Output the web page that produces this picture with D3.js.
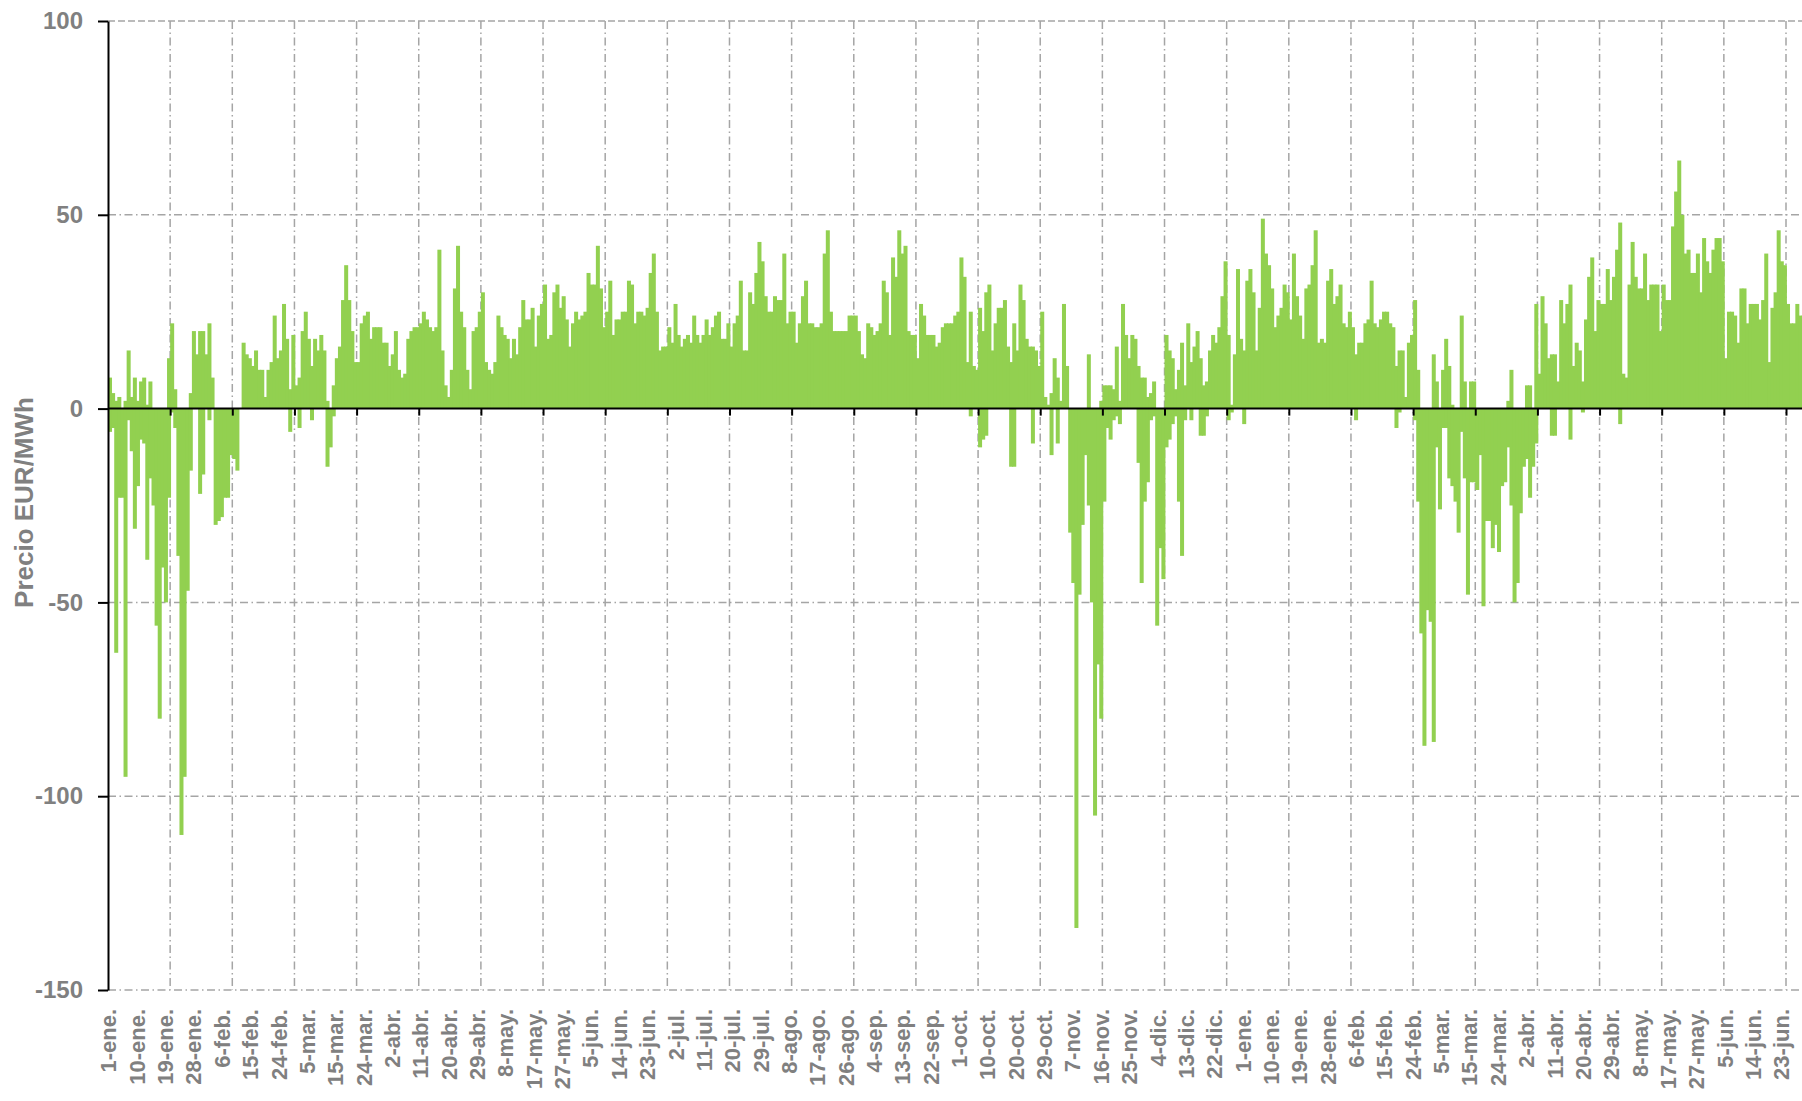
<!DOCTYPE html>
<html>
<head>
<meta charset="utf-8">
<script src="https://cdn.jsdelivr.net/npm/d3@7"></script>
<style>
  html, body { margin: 0; padding: 0; background: #ffffff; overflow: hidden; }
  svg { display: block; }
</style>
</head>
<body>
<script>
// Category labels along the time axis (one every 219 hourly points)
const dayLabels = [
  "1-ene.", "10-ene.", "19-ene.", "28-ene.", "6-feb.", "15-feb.", "24-feb.", "5-mar.", "15-mar.", "24-mar.",
  "2-abr.", "11-abr.", "20-abr.", "29-abr.", "8-may.", "17-may.", "27-may.", "5-jun.", "14-jun.", "23-jun.",
  "2-jul.", "11-jul.", "20-jul.", "29-jul.", "8-ago.", "17-ago.", "26-ago.", "4-sep.", "13-sep.", "22-sep.",
  "1-oct.", "10-oct.", "20-oct.", "29-oct.", "7-nov.", "16-nov.", "25-nov.", "4-dic.", "13-dic.", "22-dic.",
  "1-ene.", "10-ene.", "19-ene.", "28-ene.", "6-feb.", "15-feb.", "24-feb.", "5-mar.", "15-mar.", "24-mar.",
  "2-abr.", "11-abr.", "20-abr.", "29-abr.", "8-may.", "17-may.", "27-may.", "5-jun.", "14-jun.", "23-jun."
];

// Highest hourly price of each day (EUR/MWh), from 1 January onwards
const dailyMax = [
  8, 4, 2, 3, 0, 2, 15, 3, 8, 2,
  7, 8, 1, 7, 0, 0, 0, 0, 0, 13,
  22, 5, 0, 0, 0, 0, 4, 20, 14, 20,
  20, 14, 22, 8, 0, 0, 0, 0, 0, 0,
  0, 0, 0, 17, 14, 13, 11, 15, 10, 10,
  3, 10, 12, 24, 13, 15, 27, 18, 5, 19,
  6, 8, 20, 25, 18, 11, 18, 15, 19, 15,
  2, 0, 6, 13, 16, 28, 37, 28, 20, 12,
  12, 22, 24, 25, 18, 21, 21, 21, 17, 17,
  11, 14, 20, 10, 8, 9, 18, 20, 21, 21,
  22, 25, 23, 21, 20, 21, 41, 15, 6, 3,
  10, 31, 42, 25, 21, 10, 5, 20, 21, 25,
  30, 12, 10, 9, 12, 24, 21, 19, 18, 13,
  18, 14, 21, 28, 23, 23, 26, 16, 24, 27,
  32, 18, 19, 30, 32, 26, 29, 23, 16, 22,
  25, 23, 24, 25, 35, 32, 32, 42, 31, 21,
  25, 33, 19, 23, 23, 25, 25, 33, 32, 22,
  25, 25, 24, 26, 35, 40, 25, 15, 16, 16,
  21, 17, 27, 19, 16, 18, 19, 17, 24, 19,
  17, 19, 23, 19, 21, 24, 25, 18, 18, 22,
  16, 22, 24, 33, 15, 15, 30, 27, 35, 43,
  38, 29, 25, 25, 29, 28, 28, 40, 22, 25,
  25, 17, 22, 29, 33, 22, 22, 21, 21, 22,
  40, 46, 25, 20, 20, 20, 20, 20, 24, 24,
  24, 20, 14, 13, 22, 21, 19, 20, 22, 33,
  30, 19, 39, 34, 46, 40, 42, 20, 19, 19,
  13, 27, 24, 19, 19, 19, 16, 17, 21, 22,
  22, 22, 24, 25, 39, 34, 12, 25, 11, 10,
  26, 20, 30, 32, 15, 22, 26, 26, 28, 16,
  12, 22, 15, 32, 28, 18, 16, 16, 15, 11,
  25, 3, 1, 4, 13, 8, 2, 27, 11, 0,
  0, 0, 0, 0, 0, 14, 0, 0, 0, 2,
  6, 6, 6, 5, 16, 2, 27, 19, 13, 19,
  18, 11, 8, 8, 3, 4, 7, 0, 0, 0,
  19, 15, 13, 5, 10, 17, 6, 22, 12, 16,
  20, 13, 6, 7, 15, 19, 17, 21, 29, 38,
  19, 1, 14, 36, 18, 15, 33, 36, 30, 15,
  26, 49, 40, 37, 31, 21, 24, 26, 32, 30,
  23, 40, 29, 24, 18, 31, 32, 37, 46, 17,
  18, 17, 33, 36, 27, 29, 32, 22, 21, 25,
  21, 14, 17, 17, 22, 23, 33, 22, 21, 23,
  25, 25, 22, 21, 11, 15, 15, 3, 17, 19,
  28, 10, 0, 0, 0, 0, 14, 7, 0, 10,
  18, 11, 1, 0, 0, 24, 7, 0, 7, 7,
  0, 0, 0, 0, 0, 0, 0, 0, 0, 0,
  2, 10, 0, 0, 0, 0, 6, 6, 0, 27,
  9, 29, 22, 13, 14, 14, 7, 28, 22, 27,
  32, 11, 17, 15, 7, 23, 34, 39, 20, 28,
  27, 27, 36, 28, 34, 41, 48, 9, 8, 32,
  43, 34, 31, 31, 40, 28, 32, 32, 32, 20,
  32, 28, 28, 47, 56, 64, 50, 40, 41, 35,
  35, 40, 30, 44, 38, 35, 41, 44, 44, 38,
  13, 25, 25, 24, 17, 31, 31, 22, 27, 27,
  27, 23, 28, 40, 12, 26, 30, 46, 38, 37,
  27, 22, 22, 27, 24, 24
];

// Lowest negative hourly price of each day (EUR/MWh); 0 when the day stayed above zero
const dailyMin = [
  -6, -5, -63, -23, -23, -95, -3, -11, -31, -20,
  -8, -9, -39, -18, -25, -56, -80, -41, -50, -23,
  -1, -5, -38, -110, -95, -47, -16, 0, 0, -22,
  -17, 0, -3, 0, -30, -29, -28, -23, -23, -12,
  -13, -16, 0, 0, 0, 0, 0, 0, 0, 0,
  0, 0, 0, 0, 0, 0, 0, 0, -6, 0,
  0, -5, 0, 0, 0, -3, 0, 0, 0, 0,
  -15, -10, -2, 0, 0, 0, 0, 0, 0, 0,
  0, 0, 0, 0, 0, 0, 0, 0, 0, 0,
  0, 0, 0, 0, 0, 0, 0, 0, 0, 0,
  0, 0, 0, 0, 0, 0, 0, 0, 0, 0,
  0, 0, 0, 0, 0, 0, 0, 0, 0, 0,
  0, 0, 0, 0, 0, 0, 0, 0, 0, 0,
  0, 0, 0, 0, 0, 0, 0, 0, 0, 0,
  0, 0, 0, 0, 0, 0, 0, 0, 0, 0,
  0, 0, 0, 0, 0, 0, 0, 0, 0, 0,
  0, 0, 0, 0, 0, 0, 0, 0, 0, 0,
  0, 0, 0, 0, 0, 0, 0, 0, 0, 0,
  0, 0, 0, 0, 0, 0, 0, 0, 0, 0,
  0, 0, 0, 0, 0, 0, 0, 0, 0, 0,
  0, 0, 0, 0, 0, 0, 0, 0, 0, 0,
  0, 0, 0, 0, 0, 0, 0, 0, 0, 0,
  0, 0, 0, 0, 0, 0, 0, 0, 0, 0,
  0, 0, 0, 0, 0, 0, 0, 0, 0, 0,
  0, 0, 0, 0, 0, 0, 0, 0, 0, 0,
  0, 0, 0, 0, 0, 0, 0, 0, 0, 0,
  0, 0, 0, 0, 0, 0, 0, 0, 0, 0,
  0, 0, 0, 0, 0, 0, 0, -2, 0, 0,
  -10, -8, -7, 0, 0, 0, 0, 0, 0, 0,
  -15, -15, 0, 0, 0, 0, 0, -9, 0, 0,
  0, 0, 0, -12, 0, -9, 0, 0, 0, -32,
  -45, -134, -48, -30, -12, -25, -50, -105, -66, -80,
  -24, -5, -8, -3, -2, -4, 0, 0, 0, 0,
  0, -14, -45, -24, -19, -3, -2, -56, -36, -44,
  -10, -8, -4, -2, -24, -38, -3, 0, -3, 0,
  0, -7, -7, -2, 0, 0, 0, 0, 0, 0,
  -3, -1, 0, 0, 0, -4, 0, 0, 0, 0,
  0, 0, 0, 0, 0, 0, 0, 0, 0, 0,
  0, 0, 0, 0, 0, 0, 0, 0, 0, 0,
  0, 0, 0, 0, 0, 0, 0, 0, 0, 0,
  0, -3, 0, 0, 0, 0, 0, 0, 0, 0,
  0, 0, 0, 0, -5, -1, 0, 0, 0, 0,
  -3, -24, -58, -87, -52, -55, -86, -10, -26, -5,
  -5, -18, -20, -24, -32, -6, -18, -48, -19, -19,
  -21, -12, -51, -29, -29, -36, -30, -37, -20, -19,
  -10, -25, -50, -45, -27, -15, -13, -23, -15, -9,
  0, 0, 0, 0, -7, -7, 0, 0, 0, 0,
  -8, 0, 0, 0, -1, 0, 0, 0, 0, 0,
  0, 0, 0, 0, 0, 0, -4, 0, 0, 0,
  0, 0, 0, 0, 0, 0, 0, 0, 0, 0,
  0, 0, 0, 0, 0, 0, 0, 0, 0, 0,
  0, 0, 0, 0, 0, 0, 0, 0, 0, 0,
  0, 0, 0, 0, 0, 0, 0, 0, 0, 0,
  0, 0, 0, 0, 0, 0
];

const yTicks = [-150, -100, -50, 0, 50, 100];
const axisTitle = "Precio EUR/MWh";

// ---- layout ----
const W = 1802, H = 1101;
const HOURS_PER_DAY = 24;
const LABEL_STEP = 219;   // hourly points between category labels
const GRID_STEP = 480;    // hourly points between vertical gridlines

const green = "#92d050";
const gridColor = "#a5a5a5";
const textColor = "#808080";
const fontFamily = "'Liberation Sans', Arial, sans-serif";

const svg = d3.select("body").append("svg")
  .attr("width", W).attr("height", H)
  .attr("viewBox", `0 0 ${W} ${H}`);

const x = d3.scaleLinear().domain([0, GRID_STEP * 27]).range([108, 1786]);
const y = d3.scaleLinear().domain([-150, 100]).range([990, 21]);
const plotLeft = x(0);

// ---- gridlines ----
const grid = svg.append("g").attr("class", "grid");
yTicks.filter(v => v !== 0).forEach(v => {
  grid.append("line")
    .attr("x1", plotLeft).attr("x2", W)
    .attr("y1", y(v)).attr("y2", y(v))
    .attr("stroke", gridColor).attr("stroke-width", 1.5)
    .attr("stroke-dasharray", v === 100 ? "7,3" : "8,3.5,1.5,3.5");
});
const gridHours = d3.range(GRID_STEP, x.invert(W + 1), GRID_STEP);
grid.selectAll("line.v").data(gridHours).join("line")
  .attr("class", "v")
  .attr("x1", d => x(d)).attr("x2", d => x(d))
  .attr("y1", y(100)).attr("y2", y(-150))
  .attr("stroke", gridColor).attr("stroke-width", 1.5)
  .attr("stroke-dasharray", "8,3.5,1.5,3.5");

// ---- bars: one column per day, positive and negative parts ----
const dayW = x(HOURS_PER_DAY) - x(0);
const bars = svg.append("g").attr("class", "bars");
bars.selectAll("rect.pos").data(dailyMax).join("rect")
  .attr("class", "pos")
  .attr("x", (d, i) => x(i * HOURS_PER_DAY))
  .attr("width", dayW + 0.9)
  .attr("y", d => y(Math.max(d, 0)))
  .attr("height", d => y(0) - y(Math.max(d, 0)))
  .attr("fill", green);
bars.selectAll("rect.neg").data(dailyMin).join("rect")
  .attr("class", "neg")
  .attr("x", (d, i) => x(i * HOURS_PER_DAY))
  .attr("width", dayW + 0.9)
  .attr("y", y(0))
  .attr("height", d => y(Math.min(d, 0)) - y(0))
  .attr("fill", green);

// ---- x axis on the zero line (tick marks only) ----
const xAxis = d3.axisBottom(x)
  .tickValues(gridHours)
  .tickSize(7)
  .tickSizeOuter(0)
  .tickFormat("");
const gx = svg.append("g")
  .attr("transform", `translate(0,${y(0)})`)
  .call(xAxis);
gx.select(".domain").attr("d", `M${plotLeft},0H${W}`).attr("stroke", "#000").attr("stroke-width", 2);
gx.selectAll(".tick line").attr("stroke", "#000").attr("stroke-width", 2);

// ---- category labels, rotated, under the plot ----
const labelHours = dayLabels.map((d, i) => i * LABEL_STEP);
const labelAxis = d3.axisBottom(x)
  .tickValues(labelHours)
  .tickSize(0)
  .tickFormat((d, i) => dayLabels[i]);
const gl = svg.append("g")
  .attr("transform", `translate(0,${y(-150)})`)
  .call(labelAxis);
gl.select(".domain").remove();
gl.selectAll(".tick text")
  .attr("transform", "rotate(-90)")
  .attr("text-anchor", "end")
  .attr("x", -19)
  .attr("y", 0)
  .attr("dy", "0.36em")
  .attr("fill", textColor)
  .style("font-family", fontFamily)
  .style("font-weight", "bold")
  .style("font-size", "22px");

// ---- y axis ----
const yAxis = d3.axisLeft(y)
  .tickValues(yTicks)
  .tickSize(10)
  .tickPadding(15)
  .tickSizeOuter(0)
  .tickFormat(d => String(d));
const gy = svg.append("g")
  .attr("transform", `translate(${plotLeft},0)`)
  .call(yAxis);
gy.select(".domain").attr("stroke", "#000").attr("stroke-width", 2);
gy.selectAll(".tick line").attr("stroke", "#000").attr("stroke-width", 2);
gy.selectAll(".tick text")
  .attr("fill", textColor)
  .style("font-family", fontFamily)
  .style("font-weight", "bold")
  .style("font-size", "24px");

// ---- y axis title ----
svg.append("text")
  .attr("transform", `translate(33,${(y(-50) + y(0)) / 2 - 3}) rotate(-90)`)
  .attr("text-anchor", "middle")
  .attr("fill", textColor)
  .style("font-family", fontFamily)
  .style("font-weight", "bold")
  .style("font-size", "26px")
  .text(axisTitle);
</script>
</body>
</html>
